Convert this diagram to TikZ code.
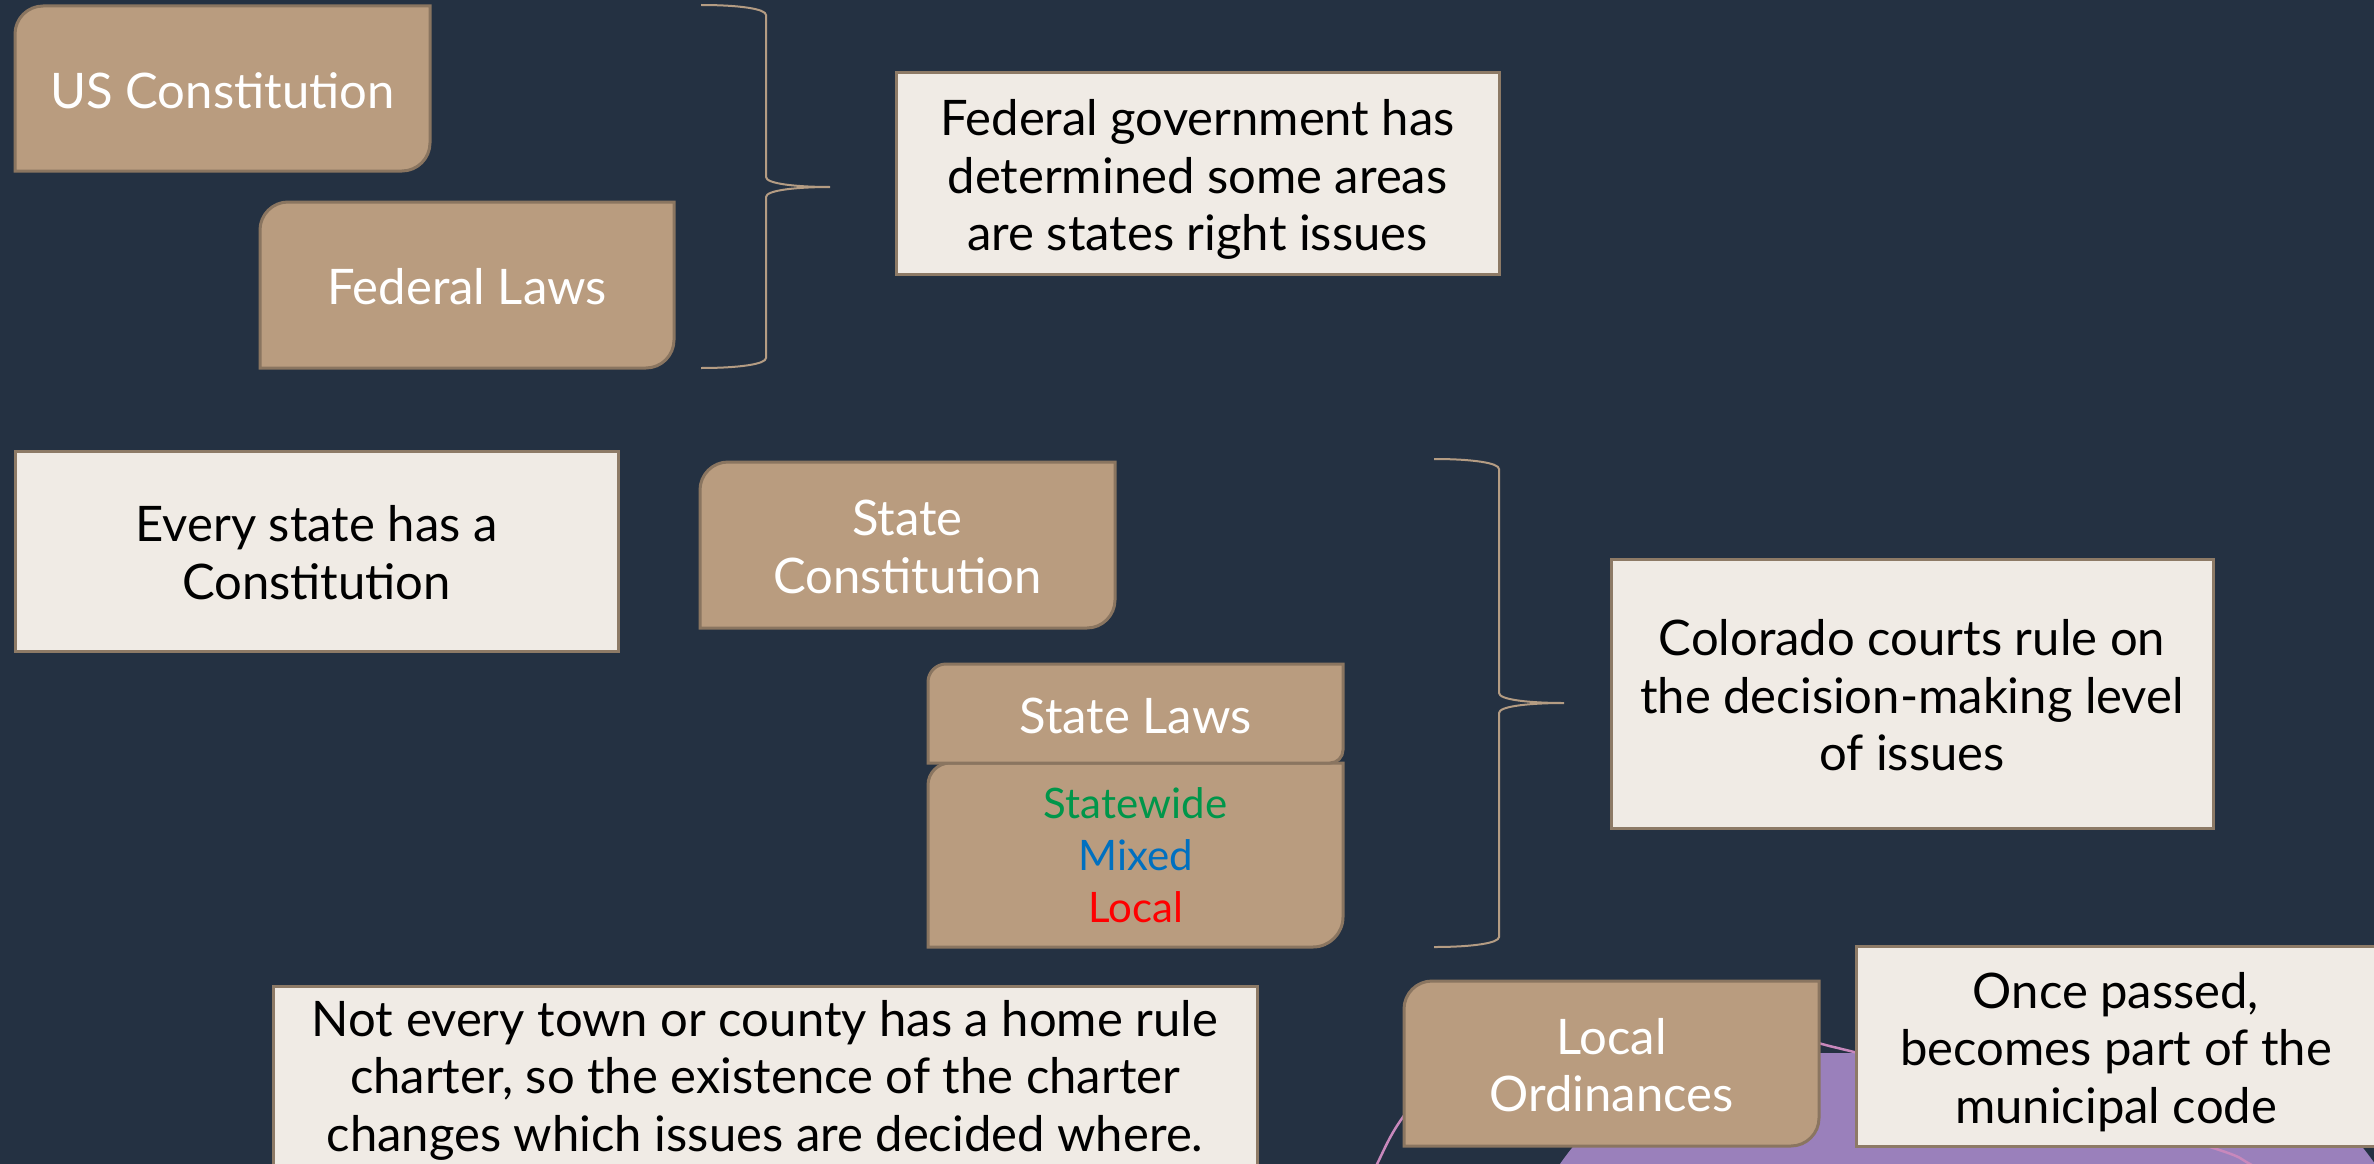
\documentclass[tikz,border=0pt]{standalone}
\usepackage{fontspec}
\setmainfont{Lato}
\usetikzlibrary{calc}
\definecolor{bg}{HTML}{243142}
\definecolor{tanfill}{HTML}{B99C7F}
\definecolor{tanedge}{HTML}{8A7560}
\definecolor{cream}{HTML}{F0EBE5}
\definecolor{creamedge}{HTML}{8D7A66}
\definecolor{bracecol}{HTML}{B49C83}
\definecolor{lav}{HTML}{9A80BB}
\definecolor{pinkline}{HTML}{C888BC}
\definecolor{swgreen}{HTML}{00964A}
\definecolor{mxblue}{HTML}{0070C0}
\definecolor{lcred}{HTML}{FF0000}
\pgfdeclarelayer{bgl}
\pgfdeclarelayer{shp}
\pgfsetlayers{bgl,shp,main}
\newcommand\ms{\rule[-9.2pt]{0pt}{57.5pt}}
\newcommand\mss{\rule[-11pt]{0pt}{52pt}}
\newcommand\rbox[3]{%
  \path[brownbox] ($(#1.north west)+(0,#2)$) .. controls ($(#1.north west)+(0,0.45*#2)$) and ($(#1.north west)+(0.45*#2,0)$) .. ($(#1.north west)+(#2,0)$)
   -- (#1.north east) -- ($(#1.south east)+(0,-#3)$) .. controls ($(#1.south east)+(0,-0.45*#3)$) and ($(#1.south east)+(-0.45*#3,0)$) .. ($(#1.south east)+(-#3,0)$)
   -- (#1.south west) -- cycle;}
\begin{document}
\begin{tikzpicture}[x=1pt,y=-1pt,
  txt/.style={inner sep=0pt,outer sep=0pt,align=center,font=\fontsize{49}{57.5}\selectfont},
  brownlbl/.style={txt,text=white},
  creamlbl/.style={txt,text=black},
  brownbox/.style={fill=tanfill,draw=tanedge,line width=3pt},
  creambox/.style={fill=cream,draw=creamedge,line width=3pt},
  bracel/.style={draw=bracecol,line width=2pt},
  lavfill/.style={fill=lav},
  pinkl/.style={draw=pinkline,line width=2.5pt}]
\useasboundingbox (0,0) rectangle (2374,1164);
\clip (0,0) rectangle (2374,1164);

% text nodes
\node[brownlbl,minimum width=415,minimum height=165] (usc) at (222.5,88.5) {\ms US Constitution};
\node[brownlbl,minimum width=414,minimum height=166] (fed) at (467,285) {\ms Federal Laws};
\node[creamlbl,minimum width=603,minimum height=201] (fedgov) at (1197.5,173.5) {\ms Federal government has\\\ms determined some areas\\\ms are states right issues};
\node[creamlbl,minimum width=603,minimum height=200] (every) at (316.5,551) {\ms Every state has a\\\ms Constitution};
\node[brownlbl,minimum width=415,minimum height=166] (stc) at (907.5,545) {\ms State\\\ms Constitution};
\node[brownlbl,minimum width=415,minimum height=99] (stl) at (1135.5,713.5) {\ms State Laws};
\node[brownlbl,font=\fontsize{42}{52}\selectfont,minimum width=415,minimum height=184] (stw) at (1135.5,855) {\mss\textcolor{swgreen}{Statewide}\\\mss\textcolor{mxblue}{Mixed}\\\mss\textcolor{lcred}{Local}};
\node[creamlbl,minimum width=602,minimum height=269] (colo) at (1912,693.5) {\ms Colorado courts rule on\\\ms the decision-making level\\\ms of issues};
\node[creamlbl,minimum width=984,minimum height=176] (town) at (765,1074) {\ms Not every town or county has a home rule\\\ms charter, so the existence of the charter\\\ms changes which issues are decided where.};
\node[brownlbl,minimum width=415,minimum height=165] (lord) at (1611.5,1063.5) {\ms Local\\\ms Ordinances};
\node[creamlbl,minimum width=520,minimum height=200] (once) at (2116,1046) {\ms Once passed,\\\ms becomes part of the\\\ms municipal code};

% brace coordinates
\coordinate (b1a) at (701,5);
\coordinate (b1b) at (766,15);
\coordinate (b1c) at (766,177);
\coordinate (b1tip) at (830,187);
\coordinate (b1d) at (766,197);
\coordinate (b1e) at (766,358);
\coordinate (b1f) at (701,368);
\coordinate (b2a) at (1434,459);
\coordinate (b2b) at (1499,469);
\coordinate (b2c) at (1499,693);
\coordinate (b2tip) at (1564,703);
\coordinate (b2d) at (1499,713);
\coordinate (b2e) at (1499,937);
\coordinate (b2f) at (1434,947);

\begin{pgfonlayer}{bgl}
  \fill[bg] (0,0) rectangle (2374,1164);
  \fill[lavfill] (1771,1309) circle (256);
  \fill[lavfill] (1771,1053) rectangle (2164,1400);
  \fill[lavfill] (2164,1309) circle (256);
  \draw[pinkl] plot[smooth,tension=0.6] coordinates {(1365,1190) (1377,1164) (1403,1117) (1460,1050) (1560,1012) (1700,1012) (1818,1043) (1850,1051) (2030,1095) (2210,1147) (2250,1164) (2280,1182)};
  \draw[bracel] (b1a) .. controls (740,5) and (766,9) .. (b1b) -- (b1c) .. controls (766,184) and (798,187) .. (b1tip)
     .. controls (798,187) and (766,190) .. (b1d) -- (b1e) .. controls (766,364) and (740,368) .. (b1f);
  \draw[bracel] (b2a) .. controls (1473,459) and (1499,463) .. (b2b) -- (b2c) .. controls (1499,700) and (1531,703) .. (b2tip)
     .. controls (1531,703) and (1499,706) .. (b2d) -- (b2e) .. controls (1499,943) and (1473,947) .. (b2f);
\end{pgfonlayer}

\begin{pgfonlayer}{shp}
  \rbox{usc}{28}{28}
  \rbox{fed}{28}{28}
  \rbox{stc}{28}{28}
  \rbox{stw}{22}{30}
  \rbox{stl}{18}{13}
  \rbox{lord}{28}{28}
  \path[creambox] (fedgov.north west) rectangle (fedgov.south east);
  \path[creambox] (every.north west) rectangle (every.south east);
  \path[creambox] (colo.north west) rectangle (colo.south east);
  \path[creambox] (town.north west) rectangle ($(town.south east)+(0,60)$);
  \path[creambox] (once.north west) rectangle (once.south east);
\end{pgfonlayer}
\end{tikzpicture}
\end{document}
